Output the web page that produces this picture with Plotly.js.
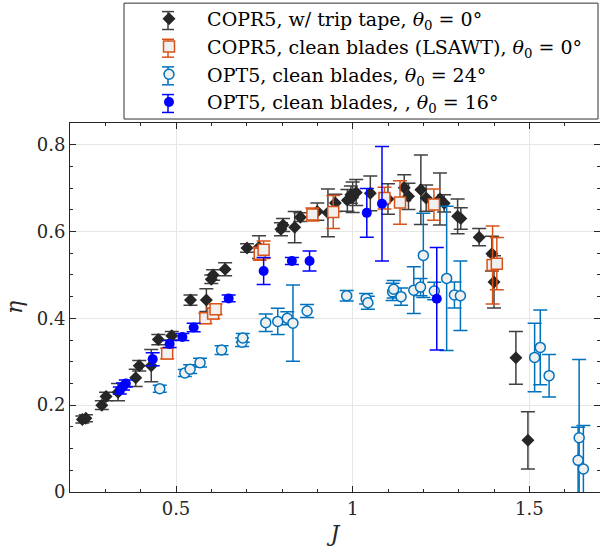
<!DOCTYPE html>
<html>
<head>
<meta charset="utf-8">
<script src="https://cdn.plot.ly/plotly-3.0.1.min.js"></script>
<style>html,body{margin:0;padding:0;background:#fff;}#chart{width:600px;height:556px;}</style>
</head>
<body>
<div id="chart"></div>
<script>
// COPR5, w/ trip tape, theta0 = 0
const tripJ   = [0.235, 0.245, 0.29, 0.302, 0.336, 0.386, 0.396, 0.43, 0.45, 0.488, 0.541, 0.586, 0.600, 0.605, 0.639, 0.701, 0.735, 0.797, 0.803, 0.836, 0.852, 0.90, 0.93, 0.951, 0.985, 0.995, 1.0, 1.01, 1.05, 1.10, 1.146, 1.158, 1.193, 1.208, 1.247, 1.259, 1.297, 1.306, 1.358, 1.394, 1.40, 1.462, 1.496];
const tripEta = [0.167, 0.17, 0.2, 0.22, 0.23, 0.263, 0.291, 0.291, 0.351, 0.36, 0.442, 0.442, 0.49, 0.5, 0.513, 0.562, 0.564, 0.605, 0.615, 0.61, 0.633, 0.646, 0.643, 0.666, 0.672, 0.685, 0.679, 0.69, 0.688, 0.675, 0.701, 0.681, 0.696, 0.677, 0.675, 0.665, 0.635, 0.63, 0.587, 0.549, 0.484, 0.309, 0.119];
const tripErr = [0.008, 0.008, 0.01, 0.01, 0.02, 0.02, 0.012, 0.037, 0.012, 0.01, 0.012, 0.026, 0.01, 0.012, 0.015, 0.01, 0.026, 0.015, 0.015, 0.036, 0.01, 0.02, 0.055, 0.02, 0.025, 0.02, 0.035, 0.03, 0.04, 0.035, 0.03, 0.03, 0.08, 0.03, 0.06, 0.02, 0.04, 0.025, 0.02, 0.04, 0.06, 0.061, 0.066];

// COPR5, clean blades (LSAWT), theta0 = 0
const cleanJ   = [0.475, 0.583, 0.605, 0.612, 0.737, 0.748, 0.886, 0.945, 1.09, 1.134, 1.23, 1.396, 1.408];
const cleanEta = [0.319, 0.40, 0.411, 0.421, 0.549, 0.558, 0.639, 0.645, 0.677, 0.667, 0.662, 0.523, 0.526];
const cleanErr = [0.012, 0.012, 0.012, 0.012, 0.015, 0.02, 0.015, 0.038, 0.025, 0.05, 0.036, 0.09, 0.06];

// OPT5, clean blades, theta0 = 24
const opt24J   = [0.454, 0.525, 0.54, 0.568, 0.629, 0.687, 0.689, 0.754, 0.788, 0.815, 0.831, 0.871, 0.983, 1.038, 1.043, 1.113, 1.116, 1.137, 1.173, 1.192, 1.2, 1.231, 1.266, 1.288, 1.305, 1.515, 1.531, 1.556, 1.638, 1.641, 1.653];
const opt24Eta = [0.238, 0.274, 0.283, 0.298, 0.327, 0.345, 0.355, 0.39, 0.393, 0.40, 0.389, 0.417, 0.452, 0.445, 0.436, 0.461, 0.467, 0.45, 0.465, 0.472, 0.545, 0.463, 0.492, 0.454, 0.452, 0.31, 0.333, 0.268, 0.073, 0.125, 0.053];
const opt24Err = [0.008, 0.008, 0.01, 0.01, 0.01, 0.01, 0.01, 0.02, 0.03, 0.015, 0.088, 0.015, 0.012, 0.012, 0.015, 0.02, 0.02, 0.02, 0.054, 0.02, 0.097, 0.02, 0.166, 0.03, 0.08, 0.079, 0.086, 0.049, 0.076, 0.18, 0.10];

// OPT5, clean blades, theta0 = 16
const opt16J   = [0.341, 0.35, 0.358, 0.434, 0.482, 0.518, 0.55, 0.649, 0.748, 0.828, 0.878, 1.04, 1.083, 1.238];
const opt16Eta = [0.234, 0.243, 0.25, 0.306, 0.341, 0.357, 0.379, 0.446, 0.509, 0.532, 0.532, 0.643, 0.664, 0.445];
const opt16Err = [0.008, 0.008, 0.008, 0.015, 0.008, 0.008, 0.01, 0.008, 0.031, 0.008, 0.023, 0.056, 0.132, 0.118];

const seriesNames = [
  'COPR5, w/ trip tape, <i>θ</i><sub>0</sub> = 0°',
  'COPR5, clean blades (LSAWT), <i>θ</i><sub>0</sub> = 0°',
  'OPT5, clean blades, <i>θ</i><sub>0</sub> = 24°',
  'OPT5, clean blades, , <i>θ</i><sub>0</sub> = 16°'
];
const xTicks = [0.5, 1, 1.5];
const yTicks = [0, 0.2, 0.4, 0.6, 0.8];

const FONT = 'DejaVu Serif, serif';
const cBlack = '#262626', cOrange = '#D95319', cLight = '#0072BD', cBlue = '#0000FF';
const PAD = '\u00a0\u00a0\u00a0';

// plot-area geometry (pixels) used only to place legend decorations
const L = 70, R = 600, T = 121, B = 492;
const px = v => (v - L) / (R - L);
const py = v => (B - v) / (B - T);

function errObj(arr, color) {
  return {type: 'data', array: arr, visible: true, color: color, thickness: 1.5, width: 7};
}

const traces = [
  {x: tripJ, y: tripEta, name: PAD + seriesNames[0], mode: 'markers', type: 'scatter',
   marker: {symbol: 'diamond', size: 10, color: cBlack, line: {width: 0}},
   error_y: errObj(tripErr, '#404040')},
  {x: cleanJ, y: cleanEta, name: PAD + seriesNames[1], mode: 'markers', type: 'scatter',
   marker: {symbol: 'square', size: 11, color: '#f0f0f0', line: {width: 1.5, color: cOrange}},
   error_y: errObj(cleanErr, cOrange)},
  {x: opt24J, y: opt24Eta, name: PAD + seriesNames[2], mode: 'markers', type: 'scatter',
   marker: {symbol: 'circle', size: 10, color: '#f0f0f0', line: {width: 1.5, color: cLight}},
   error_y: errObj(opt24Err, cLight)},
  {x: opt16J, y: opt16Eta, name: PAD + seriesNames[3], mode: 'markers', type: 'scatter',
   marker: {symbol: 'circle', size: 10, color: cBlue, line: {width: 0}},
   error_y: errObj(opt16Err, cBlue)}
];

// legend box + legend error-bar glyphs
const shapes = [
  {type: 'rect', xref: 'paper', yref: 'paper', x0: px(124), x1: px(598), y0: py(117), y1: py(0.5),
   line: {color: '#333', width: 1}, fillcolor: '#fff', layer: 'below'}
];
const legRows = [18, 45.8, 73.6, 101.4];
const legCols = ['#404040', cOrange, cLight, cBlue];
const symX = 168;
legRows.forEach((r, i) => {
  const ln = {color: legCols[i], width: 1.5};
  shapes.push({type: 'line', xref: 'paper', yref: 'paper', x0: px(symX), x1: px(symX), y0: py(r - 9), y1: py(r + 9), line: ln, layer: 'above'});
  shapes.push({type: 'line', xref: 'paper', yref: 'paper', x0: px(symX - 6), x1: px(symX + 6), y0: py(r - 9), y1: py(r - 9), line: ln, layer: 'above'});
  shapes.push({type: 'line', xref: 'paper', yref: 'paper', x0: px(symX - 6), x1: px(symX + 6), y0: py(r + 9), y1: py(r + 9), line: ln, layer: 'above'});
});

const layout = {
  width: 600, height: 556,
  margin: {l: L, r: 600 - R, t: T, b: 556 - B},
  paper_bgcolor: '#fff', plot_bgcolor: '#fff',
  font: {family: FONT, size: 18, color: '#262626'},
  showlegend: true,
  legend: {x: px(symX - 19), y: py(-3), xanchor: 'left', yanchor: 'top', bgcolor: 'rgba(0,0,0,0)',
           borderwidth: 0, font: {family: FONT, size: 19, color: '#000'}, tracegroupgap: 0},
  xaxis: {range: [0.2, 1.7], tickvals: xTicks, ticktext: xTicks.map(String), ticks: 'inside', ticklen: 6,
          tickcolor: '#262626', showline: true, linecolor: '#262626', linewidth: 1, mirror: 'ticks',
          showgrid: true, gridcolor: '#e6e6e6', zeroline: false,
          minor: {dtick: 0.1, tick0: 0.2, ticks: 'inside', ticklen: 3, tickcolor: '#262626', showgrid: false},
          title: {text: '<i>J</i>', font: {family: FONT, size: 22}, standoff: 8}},
  yaxis: {range: [0, 0.85], tickvals: yTicks, ticktext: yTicks.map(String), ticks: 'inside', ticklen: 6,
          tickcolor: '#262626', showline: true, linecolor: '#262626', linewidth: 1, mirror: 'ticks',
          showgrid: true, gridcolor: '#e6e6e6', zeroline: false,
          minor: {dtick: 0.05, tick0: 0, ticks: 'inside', ticklen: 3, tickcolor: '#262626', showgrid: false},
          title: {text: '<i>η</i>', font: {family: FONT, size: 22}, standoff: 8}},
  shapes: shapes
};

Plotly.newPlot('chart', traces, layout, {displayModeBar: false, staticPlot: true});
</script>
</body>
</html>
